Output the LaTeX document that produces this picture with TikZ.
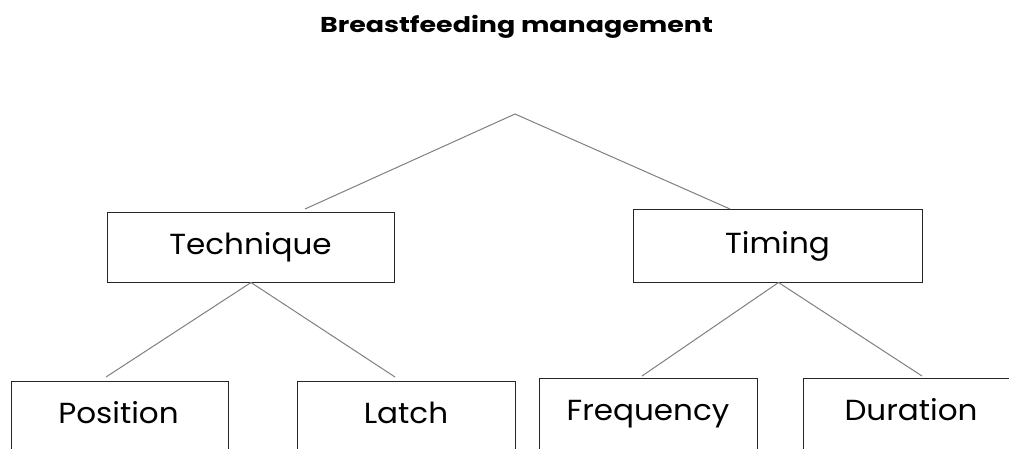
\documentclass[tikz,border=0pt]{standalone}
\usepackage{fontspec}
\setmainfont{Poppins}
\newfontfamily\widefont[FakeStretch=1.07]{Poppins}
\newfontfamily\titlefont[FakeStretch=1.25]{Poppins}
\begin{document}
\begin{tikzpicture}[x=1pt,y=-1pt,
  box/.style={draw=black!85,line width=1.3pt,fill=white,rectangle,inner sep=0pt,anchor=north west},
  lbl/.style={anchor=base,inner sep=0pt,font=\widefont\fontsize{29}{32}\selectfont},
  conn/.style={draw=black!50,line width=1pt}]
\clip (0,0) rectangle (1009,448);
\fill[white] (0,0) rectangle (1009,448);
\node[anchor=base,inner sep=0pt,font=\titlefont\fontsize{21.5}{24}\selectfont\bfseries] (title) at (516.5,32) {Breastfeeding management};
% top-level boxes
\node[box,minimum width=287pt,minimum height=70pt] (tech) at (107,212) {};
\node[lbl] (techT) at (250.5,254) {Technique};
\node[box,minimum width=289pt,minimum height=73pt] (timing) at (633,209) {};
\node[lbl] (timingT) at (777.5,253) {Timing};
% bottom boxes
\node[box,minimum width=217pt,minimum height=110pt] (pos) at (11,381) {};
\node[lbl] (posT) at (118.5,423) {Position};
\node[box,minimum width=218pt,minimum height=110pt] (latch) at (297,381) {};
\node[lbl] (latchT) at (406,423) {Latch};
\node[box,minimum width=218pt,minimum height=110pt] (freq) at (539,377.5) {};
\node[lbl] (freqT) at (648,420) {Frequency};
\node[box,minimum width=218pt,minimum height=110pt] (dur) at (803,377.5) {};
\node[lbl] (durT) at (911,420) {Duration};
% connector ends
\coordinate (apex) at (515,114);
\coordinate (techTop) at (305,209);
\coordinate (timTop) at (730,209);
\coordinate (techBot) at (251,282.5);
\coordinate (timBot) at (778.5,282.5);
\coordinate (posTop) at (106,377);
\coordinate (latchTop) at (395,377);
\coordinate (freqTop) at (642,376);
\coordinate (durTop) at (922,376);
\draw[conn] (techTop) -- (apex) -- (timTop);
\draw[conn] (posTop) -- (techBot) -- (latchTop);
\draw[conn] (freqTop) -- (timBot) -- (durTop);
\end{tikzpicture}
\end{document}
